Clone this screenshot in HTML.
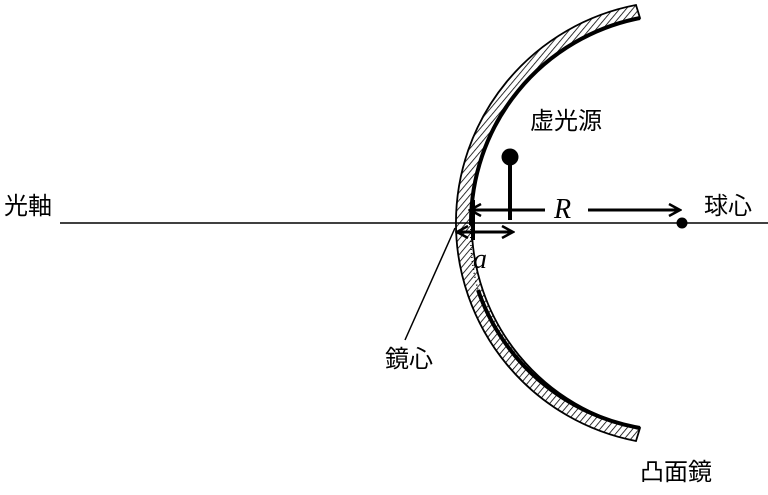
<!DOCTYPE html>
<html><head><meta charset="utf-8"><style>
body{margin:0;background:#fff;width:768px;height:490px;overflow:hidden}
.j{font-family:"Liberation Sans","Noto Sans CJK JP",sans-serif;font-size:24px;fill:#000}
.i{font-family:"Liberation Serif",serif;font-style:italic;font-size:28px;fill:#000}
</style></head><body>
<svg width="768" height="490" viewBox="0 0 768 490" xmlns="http://www.w3.org/2000/svg">
<defs>
<pattern id="h" width="5" height="5" patternUnits="userSpaceOnUse" patternTransform="rotate(40)">
<line x1="0" y1="0" x2="0" y2="5" stroke="#000" stroke-width="1.6"/>
</pattern>
<marker id="ar" markerWidth="14" markerHeight="14" refX="12" refY="7" orient="auto-start-reverse" markerUnits="userSpaceOnUse">
<path d="M1,1 L12,7 L1,13" fill="none" stroke="#000" stroke-width="2.5"/></marker>
</defs>
<line x1="60" y1="223" x2="768" y2="223" stroke="#000" stroke-width="1.5"/>
<path d="M636,5 A222,222 0 0 0 636,441 L640,428 A209,209 0 0 1 640,18 Z" fill="url(#h)" stroke="#000" stroke-width="1.8"/>
<path d="M640,18 A209,209 0 0 0 471,225" fill="none" stroke="#000" stroke-width="4"/>
<path d="M478,290 A209,209 0 0 0 640,428" fill="none" stroke="#000" stroke-width="4"/>
<path d="M471,225 A209,209 0 0 0 478,290" fill="none" stroke="#000" stroke-width="1.5" stroke-dasharray="1,3"/>
<line x1="473" y1="200" x2="473" y2="240" stroke="#000" stroke-width="4"/>
<line x1="470" y1="210" x2="545" y2="210" stroke="#000" stroke-width="3" marker-start="url(#ar)"/>
<line x1="588" y1="210" x2="680" y2="210" stroke="#000" stroke-width="3" marker-end="url(#ar)"/>
<line x1="457" y1="232" x2="513" y2="232" stroke="#000" stroke-width="3" marker-start="url(#ar)" marker-end="url(#ar)"/>
<line x1="510" y1="157" x2="510" y2="220" stroke="#000" stroke-width="4"/>
<circle cx="510" cy="157" r="8.5" fill="#000"/>
<circle cx="682" cy="223" r="5.5" fill="#000"/>
<line x1="455" y1="228" x2="405" y2="340" stroke="#000" stroke-width="1.5"/>
<text class="i" x="554" y="218">R</text>
<text class="i" x="473" y="268">a</text>
<text class="j" x="4" y="214">光軸</text>
<text class="j" x="704" y="214">球心</text>
<text class="j" x="530" y="129">虚光源</text>
<text class="j" x="385" y="367">鏡心</text>
<text class="j" x="640" y="480">凸面鏡</text>
</svg>
</body></html>
